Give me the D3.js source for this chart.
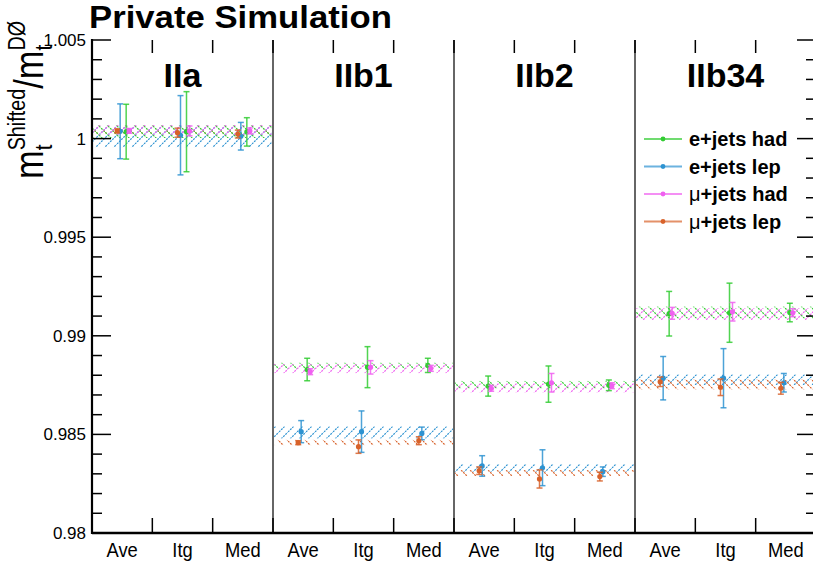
<!DOCTYPE html>
<html>
<head>
<meta charset="utf-8">
<script src="https://cdn.jsdelivr.net/npm/d3@7"></script>
<style>
  body { margin: 0; background: #fff; }
  text { font-family: "Liberation Sans", Arial, Helvetica, sans-serif; fill: #000; }
</style>
</head>
<body>
<svg id="chart" width="813" height="565"></svg>
<script>
const periods = ["IIa", "IIb1", "IIb2", "IIb34"]
const methods = ["Ave", "Itg", "Med"]
const yTicks = [0.98, 0.985, 0.99, 0.995, 1, 1.005]
const yTickLabels = ["0.98", "0.985", "0.99", "0.995", "1", "1.005"]

// points: per period, methods Ave, Itg, Med
const eHadVal = [1.00035, 1.00035, 1.00034, 0.98829, 0.98841, 0.98850, 0.98745, 0.98755, 0.98749, 0.99112, 0.99117, 0.99118]
const eHadErr = [0.00139, 0.00203, 0.00072, 0.00057, 0.00104, 0.00036, 0.00051, 0.00092, 0.00027, 0.00113, 0.0015, 0.00047]
const eLepVal = [1.00037, 1.00017, 1.00012, 0.98514, 0.98514, 0.98505, 0.98340, 0.98331, 0.98311, 0.98785, 0.98785, 0.98762]
const eLepErr = [0.00139, 0.00201, 0.0007, 0.00056, 0.00105, 0.00032, 0.00052, 0.00091, 0.00024, 0.0011, 0.0015, 0.00047]
const muHadVal = [1.00039, 1.00039, 1.00039, 0.98818, 0.98840, 0.98835, 0.98734, 0.98762, 0.98747, 0.99114, 0.99122, 0.99117]
const muHadErr = [0.00012, 0.00025, 0.00015, 0.00015, 0.00034, 0.00015, 0.00015, 0.00047, 0.00015, 0.0003, 0.00047, 0.0002]
const muLepVal = [1.00039, 1.0003, 1.00023, 0.98458, 0.98438, 0.98468, 0.98316, 0.98274, 0.98286, 0.98767, 0.98739, 0.98734]
const muLepErr = [0.0001, 0.00023, 0.0002, 0.0001, 0.00034, 0.0002, 0.00019, 0.00046, 0.00022, 0.00024, 0.00042, 0.0003]

// fitted constant per period and its uncertainty (hatched bands)
const eHadBand = [1.00036, 0.98848, 0.98752, 0.99118]
const eHadBandErr = [0.00033, 0.00015, 0.00019, 0.0003]
const eLepBand = [1.00008, 0.98510, 0.98330, 0.98777]
const eLepBandErr = [0.00051, 0.0003, 0.00019, 0.00027]
const muHadBand = [1.00044, 0.98834, 0.98736, 0.99110]
const muHadBandErr = [0.00025, 0.00023, 0.00023, 0.0003]
const muLepBand = [1.00035, 0.98459, 0.98304, 0.98754]
const muLepBandErr = [0.0001, 0.00013, 0.00015, 0.00025]

// draw order: bands/points back to front
const series = [
    {name: "e+jets lep", id: "elep", color: "#2e93d1", val: eLepVal, err: eLepErr, band: eLepBand, bandErr: eLepBandErr, dx: -2, hatch: "/"},
    {name: "μ+jets lep", id: "mulep", color: "#d8622a", val: muLepVal, err: muLepErr, band: muLepBand, bandErr: muLepBandErr, dx: -5, hatch: "\\"},
    {name: "e+jets had", id: "ehad", color: "#33cc33", val: eHadVal, err: eHadErr, band: eHadBand, bandErr: eHadBandErr, dx: 4, hatch: "\\"},
    {name: "μ+jets had", id: "muhad", color: "#f060f0", val: muHadVal, err: muHadErr, band: muHadBand, bandErr: muHadBandErr, dx: 7, hatch: "/"}
]
const legendOrder = ["ehad", "elep", "muhad", "mulep"]

const svg = d3.select("#chart")
const pLeft = 92, pRight = 816, pTop = 40, pBottom = 533

const keys = []
periods.forEach(p => methods.forEach(m => keys.push(p + "-" + m)))

const x = d3.scaleBand().domain(keys).range([pLeft, pRight])
const y = d3.scaleLinear().domain([0.98, 1.005]).range([pBottom, pTop])
const bw = x.bandwidth()

// hatch patterns
const defs = svg.append("defs")
series.forEach(s => {
    let pat = defs.append("pattern")
        .attr("id", "hatch-" + s.id)
        .attr("patternUnits", "userSpaceOnUse")
        .attr("width", 9).attr("height", 9)
    let d = s.hatch == "/" ? "M-2,2 l4,-4 M0,9 l9,-9 M7,11 l4,-4" : "M-2,7 l4,4 M0,0 l9,9 M7,-2 l4,4"
    pat.append("path").attr("d", d)
        .attr("stroke", s.color).attr("stroke-width", 1.2).attr("fill", "none")
        .attr("stroke-dasharray", "2,1")
})
defs.append("clipPath").attr("id", "plotclip")
    .append("rect").attr("x", pLeft).attr("y", pTop).attr("width", pRight - pLeft).attr("height", pBottom - pTop)

const plot = svg.append("g").attr("clip-path", "url(#plotclip)")

// bands
series.forEach(s => {
    plot.append("g").selectAll("rect")
        .data(periods)
        .enter().append("rect")
        .attr("x", p => x(p + "-Ave"))
        .attr("width", bw * 3)
        .attr("y", (p, i) => y(s.band[i] + s.bandErr[i]))
        .attr("height", (p, i) => y(s.band[i] - s.bandErr[i]) - y(s.band[i] + s.bandErr[i]))
        .attr("fill", "url(#hatch-" + s.id + ")")
})

// error bars + markers
series.forEach(s => {
    let g = plot.append("g")
    keys.forEach((k, i) => {
        let cx = x(k) + bw / 2 + s.dx
        let y1 = y(s.val[i] + s.err[i]), y2 = y(s.val[i] - s.err[i])
        g.append("line").attr("x1", cx).attr("x2", cx).attr("y1", y1).attr("y2", y2)
            .attr("stroke", s.color).attr("stroke-width", 1.5).attr("stroke-opacity", 0.85)
        g.append("line").attr("x1", cx - 3).attr("x2", cx + 3).attr("y1", y1).attr("y2", y1)
            .attr("stroke", s.color).attr("stroke-width", 1.5).attr("stroke-opacity", 0.85)
        g.append("line").attr("x1", cx - 3).attr("x2", cx + 3).attr("y1", y2).attr("y2", y2)
            .attr("stroke", s.color).attr("stroke-width", 1.5).attr("stroke-opacity", 0.85)
        g.append("circle").attr("cx", cx).attr("cy", y(s.val[i])).attr("r", 2.6).attr("fill", s.color)
    })
})

// panel dividers
svg.append("g").selectAll("line")
    .data(periods.slice(1))
    .enter().append("line")
    .attr("x1", p => x(p + "-Ave")).attr("x2", p => x(p + "-Ave"))
    .attr("y1", pTop).attr("y2", pBottom)
    .attr("stroke", "#666").attr("stroke-width", 2)

// x ticks at bin edges, bottom and top
const edges = keys.slice(1).map(k => x(k))
svg.append("g").selectAll("line")
    .data(edges).enter().append("line")
    .attr("x1", d => d).attr("x2", d => d).attr("y1", pBottom).attr("y2", pBottom - 15)
    .attr("stroke", "#000").attr("stroke-width", 1.5)
svg.append("g").selectAll("line")
    .data(edges).enter().append("line")
    .attr("x1", d => d).attr("x2", d => d).attr("y1", pTop).attr("y2", pTop + 13)
    .attr("stroke", "#000").attr("stroke-width", 1.5)

// y ticks, left and right
const minor = d3.range(0, 26).map(i => 0.98 + i * 0.001)
minor.forEach((v, i) => {
    let len = i % 5 == 0 ? 19 : 10
    svg.append("line").attr("x1", pLeft).attr("x2", pLeft + len).attr("y1", y(v)).attr("y2", y(v))
        .attr("stroke", "#000").attr("stroke-width", 1.5)
    svg.append("line").attr("x1", pRight).attr("x2", pRight - len).attr("y1", y(v)).attr("y2", y(v))
        .attr("stroke", "#000").attr("stroke-width", 1.5)
})

// axis lines
svg.append("line").attr("x1", pLeft).attr("x2", pLeft).attr("y1", pTop - 1).attr("y2", pBottom + 1)
    .attr("stroke", "#000").attr("stroke-width", 2.2)
svg.append("line").attr("x1", pLeft).attr("x2", pRight).attr("y1", pBottom).attr("y2", pBottom)
    .attr("stroke", "#000").attr("stroke-width", 2.5)

// y tick labels
svg.append("g").selectAll("text")
    .data(yTicks).enter().append("text")
    .attr("x", 86).attr("y", d => y(d) + 6)
    .attr("text-anchor", "end").style("font-size", "17px")
    .text((d, i) => yTickLabels[i])

// x tick labels
svg.append("g").selectAll("text")
    .data(keys).enter().append("text")
    .attr("transform", k => "translate(" + (x(k) + bw / 2) + ",557) scale(0.92,1)")
    .attr("text-anchor", "middle").style("font-size", "20px")
    .text(k => k.split("-")[1])

// panel labels
svg.append("g").selectAll("text")
    .data(periods).enter().append("text")
    .attr("x", p => x(p + "-Itg") + bw / 2).attr("y", 87)
    .attr("text-anchor", "middle").style("font-size", "34px").style("font-weight", "bold")
    .text(p => p)

// title
svg.append("text").attr("transform", "translate(89,28) scale(1.12,1)")
    .style("font-size", "31px").style("font-weight", "bold")
    .text("Private Simulation")

// y axis label m_t^Shifted / m_t^DØ
const yl = svg.append("g").attr("transform", "translate(43,179) rotate(-90) scale(0.86,1)")
let lx = 0
function piece(txt, size, dy) {
    let t = yl.append("text").attr("x", lx).attr("y", dy).style("font-size", size + "px").text(txt)
    return t.node().getComputedTextLength()
}
let w = piece("m", 40, 0); lx += w
let w1 = piece("t", 24, 9), w2 = piece("Shifted", 23, -18); lx += Math.max(w1, w2)
w = piece("/", 40, 0); lx += w
w = piece("m", 40, 0); lx += w
w1 = piece("t", 24, 9); w2 = piece("DØ", 23, -18)

// legend
const legend = svg.append("g")
legendOrder.forEach((id, i) => {
    let s = series.find(d => d.id == id)
    let ly = 139 + i * 27.5
    legend.append("line").attr("x1", 644).attr("x2", 682).attr("y1", ly).attr("y2", ly)
        .attr("stroke", s.color).attr("stroke-width", 2).attr("stroke-opacity", 0.7)
    legend.append("circle").attr("cx", 663).attr("cy", ly).attr("r", 2.4).attr("fill", s.color)
    let t = legend.append("text").attr("x", 689).attr("y", ly + 7).style("font-size", "20px").style("font-weight", "bold")
    if (s.name.startsWith("μ")) {
        t.append("tspan").style("font-weight", "normal").text("μ")
        t.append("tspan").text(s.name.slice(1))
    } else {
        t.text(s.name)
    }
})
</script>
</body>
</html>
